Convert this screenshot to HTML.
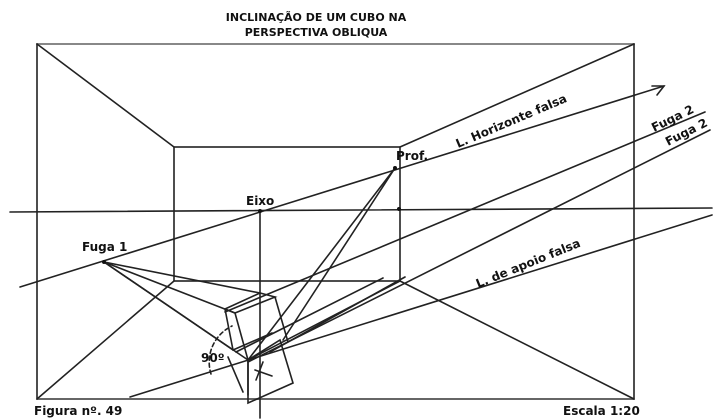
<!DOCTYPE html>
<html><head><meta charset="utf-8"><style>
html,body{margin:0;padding:0;background:#fff;width:720px;height:420px;overflow:hidden}
svg{display:block}
text{font-family:"DejaVu Sans","Liberation Sans",sans-serif;font-weight:bold;fill:#111}
</style></head><body>
<svg width="720" height="420" viewBox="0 0 720 420" xmlns="http://www.w3.org/2000/svg">
<g stroke="#222" stroke-width="1.6" fill="none" stroke-linecap="round">
<line x1="37" y1="44" x2="634" y2="44" stroke="#888" stroke-width="2"/>
<line x1="37" y1="44" x2="37" y2="399"/>
<line x1="634" y1="44" x2="634" y2="399"/>
<line x1="37" y1="399" x2="634" y2="399" stroke="#666" stroke-width="2"/>
<rect x="174" y="147" width="226" height="134"/>
<line x1="37" y1="44" x2="174" y2="147"/>
<line x1="634" y1="44" x2="400" y2="147"/>
<line x1="37" y1="399" x2="174" y2="281"/>
<line x1="634" y1="399" x2="400" y2="281"/>
<line x1="10" y1="212" x2="712" y2="208"/>
<line x1="260" y1="211" x2="260" y2="418"/>
<line x1="20" y1="287" x2="664" y2="86"/>
<polyline points="652,86 664,86 657,95"/>
<line x1="225" y1="312" x2="705" y2="112"/>
<line x1="248" y1="362" x2="710" y2="130"/>
<line x1="130" y1="397" x2="712" y2="215"/>
<line x1="395" y1="168" x2="248" y2="360"/>
<line x1="395" y1="168" x2="283" y2="340"/>
<line x1="104" y1="262" x2="260" y2="293"/>
<line x1="104" y1="262" x2="235" y2="313"/>
<line x1="104" y1="262" x2="233" y2="350"/>
<line x1="104" y1="262" x2="248" y2="360"/>
<polygon points="225,309 260,293 275,297 235,313"/>
<line x1="225" y1="309" x2="233" y2="350"/>
<line x1="235" y1="313" x2="248" y2="360"/>
<line x1="275" y1="297" x2="288" y2="342"/>
<line x1="233" y1="350" x2="272" y2="333"/>
<polygon points="248,360 280,340 293,383 248,403"/>
<line x1="228" y1="357" x2="243" y2="392"/>
<line x1="248" y1="360" x2="248" y2="395"/>
<line x1="255" y1="370" x2="272" y2="376"/>
<line x1="263" y1="362" x2="256" y2="380"/>
<line x1="383" y1="278" x2="236" y2="352"/>
<line x1="405" y1="277" x2="270" y2="352"/>
<line x1="400" y1="281" x2="248" y2="360"/>
<path d="M211,374 A40,40 0 0 1 232,326" stroke-dasharray="4,3"/>
</g>
<circle cx="104" cy="262" r="2" fill="#111"/>
<circle cx="260" cy="211" r="2" fill="#111"/>
<circle cx="399" cy="209" r="2" fill="#111"/>
<circle cx="395" cy="168" r="2" fill="#111"/>
<text x="316" y="21" font-size="11" text-anchor="middle">INCLINAÇÃO DE UM CUBO NA</text>
<text x="316" y="36" font-size="11" text-anchor="middle">PERSPECTIVA OBLIQUA</text>
<text x="246" y="205" font-size="12">Eixo</text>
<text x="82" y="251" font-size="12">Fuga 1</text>
<text x="396" y="160" font-size="12">Prof.</text>
<text x="201" y="362" font-size="12">90º</text>
<text x="0" y="0" font-size="12" transform="translate(458,148) rotate(-23)">L. Horizonte falsa</text>
<text x="0" y="0" font-size="12" transform="translate(654,132) rotate(-26)">Fuga 2</text>
<text x="0" y="0" font-size="12" transform="translate(668,146) rotate(-27)">Fuga 2</text>
<text x="0" y="0" font-size="12" transform="translate(478,288) rotate(-22)">L. de apoio falsa</text>
<text x="34" y="415" font-size="12">Figura nº. 49</text>
<text x="563" y="415" font-size="12">Escala 1:20</text>
</svg>
</body></html>
